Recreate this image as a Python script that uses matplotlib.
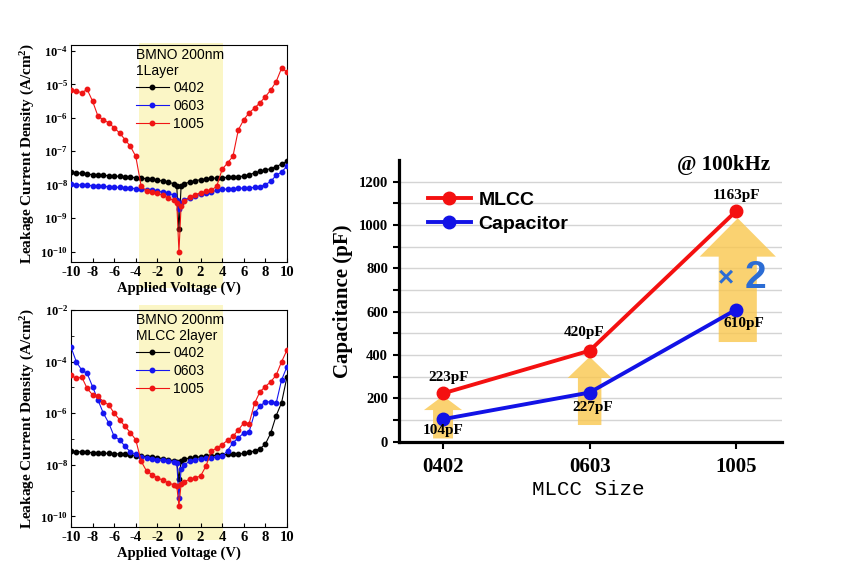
import numpy as np
import matplotlib
matplotlib.use('Agg')
import matplotlib.pyplot as plt
import matplotlib.transforms as mtransforms
from matplotlib.patches import Rectangle, Polygon
from matplotlib.lines import Line2D

plt.rcParams['font.family'] = 'Liberation Serif'
plt.rcParams['font.weight'] = 'bold'
plt.rcParams['axes.labelweight'] = 'bold'
plt.rcParams['axes.unicode_minus'] = False
plt.rcParams['mathtext.default'] = 'regular'

# ---- leakage current data (log10 of A/cm^2) ----
volt = [-10, -9.5, -9, -8.5, -8, -7.5, -7, -6.5, -6, -5.5, -5, -4.5, -4, -3.5, -3,
        -2.5, -2, -1.5, -1, -0.5, -0.2, 0, 0.2, 0.5, 1, 1.5, 2, 2.5, 3, 3.5, 4,
        4.5, 5, 5.5, 6, 6.5, 7, 7.5, 8, 8.5, 9, 9.5, 10]

one_0402 = [-7.62, -7.64, -7.66, -7.68, -7.70, -7.71, -7.72, -7.73, -7.74, -7.75, -7.76,
            -7.77, -7.79, -7.80, -7.82, -7.84, -7.86, -7.89, -7.92, -7.97, -8.05, -9.33,
            -8.05, -7.97, -7.92, -7.88, -7.85, -7.83, -7.81, -7.80, -7.79, -7.78, -7.77,
            -7.76, -7.74, -7.70, -7.65, -7.60, -7.56, -7.52, -7.46, -7.38, -7.30]
one_0603 = [-7.99, -8.00, -8.01, -8.02, -8.03, -8.04, -8.05, -8.06, -8.07, -8.08, -8.09,
            -8.10, -8.12, -8.13, -8.15, -8.17, -8.19, -8.22, -8.25, -8.31, -8.45, -8.73,
            -8.55, -8.45, -8.39, -8.33, -8.29, -8.25, -8.21, -8.17, -8.14, -8.13, -8.12,
            -8.11, -8.10, -8.09, -8.08, -8.06, -8.00, -7.90, -7.72, -7.62, -7.45]
one_1005 = [-5.17, -5.20, -5.25, -5.15, -5.50, -5.95, -6.06, -6.15, -6.30, -6.45, -6.65,
            -6.85, -7.15, -8.04, -8.19, -8.22, -8.26, -8.32, -8.39, -8.47, -8.55, -10.0,
            -8.63, -8.50, -8.38, -8.30, -8.24, -8.20, -8.17, -8.04, -7.54, -7.35, -7.15,
            -6.36, -6.06, -5.85, -5.71, -5.55, -5.37, -5.17, -4.92, -4.52, -4.62]

two_0402 = [-7.47, -7.49, -7.50, -7.52, -7.53, -7.54, -7.55, -7.56, -7.57, -7.58, -7.60,
            -7.62, -7.64, -7.66, -7.68, -7.70, -7.73, -7.76, -7.80, -7.84, -7.90, -8.56,
            -7.85, -7.78, -7.74, -7.71, -7.69, -7.67, -7.65, -7.63, -7.61, -7.60, -7.59,
            -7.58, -7.56, -7.52, -7.46, -7.38, -7.20, -6.77, -6.10, -5.60, -4.60]
two_0603 = [-3.44, -4.01, -4.33, -4.46, -4.97, -5.49, -6.00, -6.38, -6.90, -7.03, -7.28,
            -7.50, -7.60, -7.68, -7.73, -7.76, -7.80, -7.83, -7.86, -7.88, -7.92, -9.27,
            -8.18, -8.00, -7.86, -7.80, -7.77, -7.75, -7.73, -7.70, -7.67, -7.45, -7.15,
            -6.95, -6.77, -6.72, -6.00, -5.74, -5.55, -5.57, -5.62, -4.72, -4.20]
two_1005 = [-4.53, -4.65, -4.60, -5.04, -5.29, -5.35, -5.55, -5.68, -6.00, -6.25, -6.51,
            -6.75, -7.03, -7.86, -8.24, -8.38, -8.50, -8.60, -8.69, -8.78, -8.82, -9.59,
            -8.75, -8.65, -8.56, -8.50, -8.44, -8.05, -7.47, -7.35, -7.22, -7.05, -6.90,
            -6.65, -6.38, -6.40, -5.62, -5.17, -4.97, -4.78, -4.53, -4.01, -3.56]

# ---- capacitance data ----
sizes = ['0402', '0603', '1005']
mlcc = [223, 420, 1065]
capacitor = [104, 227, 610]
mlcc_txt = ['223pF', '420pF', '1163pF']
cap_txt = ['104pF', '227pF', '610pF']
arrow_bottom = [15, 77, 460]
arrow_top = [212, 392, 1031]

fig = plt.figure(figsize=(8.57, 5.78), dpi=100)


def leak_panel(rect, y0402, y0603, y1005, title, ylim, majors, minors, shade_y):
    ax = fig.add_axes(rect)
    trans = mtransforms.blended_transform_factory(ax.transData, ax.transAxes)
    ax.add_patch(Rectangle((-3.7, shade_y[0]), 7.77, shade_y[1] - shade_y[0],
                           transform=trans, facecolor='#FBF6C6', edgecolor='none',
                           clip_on=False, zorder=0))
    v = np.array(volt)
    for ys, c, lab in [(y0402, 'black', '0402'), (y0603, '#1515F0', '0603'),
                       (y1005, '#F01515', '1005')]:
        ax.plot(v, 10.0 ** np.array(ys), color=c, lw=0.8, marker='o', ms=3.2,
                label=lab, zorder=3)
    ax.set_yscale('log')
    ax.set_xlim(-10, 10)
    ax.set_ylim(*ylim)
    ax.set_xticks(range(-10, 11, 2))
    ax.set_yticks([10.0 ** e for e in majors])
    ax.set_yticks([10.0 ** e for e in minors], minor=True)
    ax.yaxis.set_minor_formatter(plt.NullFormatter())
    ax.tick_params(direction='in', labelsize=10.5, pad=3, length=3)
    ax.tick_params(axis='y', labelsize=9, pad=2)
    ax.tick_params(which='minor', direction='in', length=2)
    ax.set_xlabel('Applied Voltage (V)', fontsize=10.5, labelpad=2)
    ax.set_ylabel('Leakage Current Density (A/cm$^2$)', fontsize=11)
    ax.yaxis.set_label_coords(-0.155, 0.5)
    leg = ax.legend(title=title, loc='upper left', bbox_to_anchor=(0.3, 0.985),
                    frameon=False, prop={'family': 'Liberation Sans', 'weight': 'normal',
                                         'size': 10},
                    title_fontproperties={'family': 'Liberation Sans', 'weight': 'normal',
                                          'size': 10},
                    alignment='left', handlelength=2.4, handletextpad=0.3,
                    labelspacing=0.28, borderpad=0, borderaxespad=0)
    leg._legend_box.sep = 2
    return ax


leak_panel([0.0828, 0.5472, 0.252, 0.3749], one_0402, one_0603, one_1005,
           'BMNO 200nm\n1Layer', (5e-11, 1.5e-4), range(-10, -3), [],
           (-0.12, 1.01))
leak_panel([0.0828, 0.0888, 0.252, 0.3749], two_0402, two_0603, two_1005,
           'BMNO 200nm\nMLCC 2layer', (4e-11, 1e-2), range(-10, -1, 2),
           range(-9, -2, 2), (-0.06, 1.023))

# ---- capacitance panel ----
ax = fig.add_axes([0.4656, 0.2358, 0.4466, 0.4874])
x = np.arange(len(sizes))

arrow_specs = [(0.13, 0.068, 146), (0.15, 0.08, 294), (0.26, 0.13, 854)]
for xi, b, t, (hw, bw, hb) in zip(x, arrow_bottom, arrow_top, arrow_specs):
    cx = xi + (0.01 if xi == 2 else 0)
    pts = [(cx - bw, b), (cx + bw, b), (cx + bw, hb), (cx + hw, hb), (cx, t),
           (cx - hw, hb), (cx - bw, hb)]
    ax.add_patch(Polygon(pts, closed=True, facecolor='#F9C74E', alpha=0.8,
                         edgecolor='none', zorder=1))

ax.plot(x, mlcc, color='#F41010', lw=2.8, marker='o', ms=9, zorder=4)
ax.plot(x, capacitor, color='#1212E6', lw=2.8, marker='o', ms=9, zorder=4)

mlcc_off = [(0.04, 75), (-0.04, 85), (0.0, 70)]
cap_off = [(0.0, -52), (0.02, -70), (0.05, -66)]
for xi, yv, s, (dx, dy) in zip(x, mlcc, mlcc_txt, mlcc_off):
    ax.text(xi + dx, yv + dy, s, ha='center', va='center', fontsize=11, zorder=5)
for xi, yv, s, (dx, dy) in zip(x, capacitor, cap_txt, cap_off):
    ax.text(xi + dx, yv + dy, s, ha='center', va='center', fontsize=11, zorder=5)

ax.text(1.93, 755, '×', color='#2B6CD4', fontsize=20, fontweight='bold',
        family='Liberation Sans', ha='center', va='center', zorder=5)
ax.text(2.13, 755, '2', color='#2B6CD4', fontsize=28, fontweight='bold',
        family='Liberation Sans', ha='center', va='center', zorder=5)

ax.text(0.847, 0.982, '@ 100kHz', transform=ax.transAxes, fontsize=15,
        ha='center', va='center')

ax.set_xlim(-0.3, 2.31)
ax.set_ylim(0, 1300)
ax.set_xticks(x)
ax.set_xticklabels(sizes)
ax.set_yticks(range(0, 1201, 200))
ax.set_yticks(range(100, 1300, 200), minor=True)
ax.grid(True, which='both', axis='y', color='#D4D4D4', lw=1, zorder=0)
ax.set_axisbelow(True)
for s in ['top', 'right']:
    ax.spines[s].set_visible(False)
for s in ['left', 'bottom']:
    ax.spines[s].set_linewidth(2.3)
ax.tick_params(axis='x', labelsize=15, length=5, width=1.5, pad=6)
ax.tick_params(axis='y', which='both', labelsize=10.5, length=4, width=1.5, pad=4)
ax.set_ylabel('Capacitance (pF)', fontsize=15)
ax.yaxis.set_label_coords(-0.12, 0.5)
ax.set_xlabel('MLCC Size', family='Liberation Mono', fontweight='normal', fontsize=15)
ax.xaxis.set_label_coords(0.494, -0.135)

handles = [Line2D([], [], color='#F41010', lw=2.8, marker='o', ms=9),
           Line2D([], [], color='#1212E6', lw=2.8, marker='o', ms=9)]
ax.legend(handles, ['MLCC', 'Capacitor'], loc='upper left', bbox_to_anchor=(0.075, 0.89),
          frameon=False, prop={'family': 'Liberation Sans', 'weight': 'bold', 'size': 14},
          handlelength=2.2, handletextpad=0.4, labelspacing=0.35, borderpad=0,
          borderaxespad=0)

fig.savefig('out.png', dpi=100)
